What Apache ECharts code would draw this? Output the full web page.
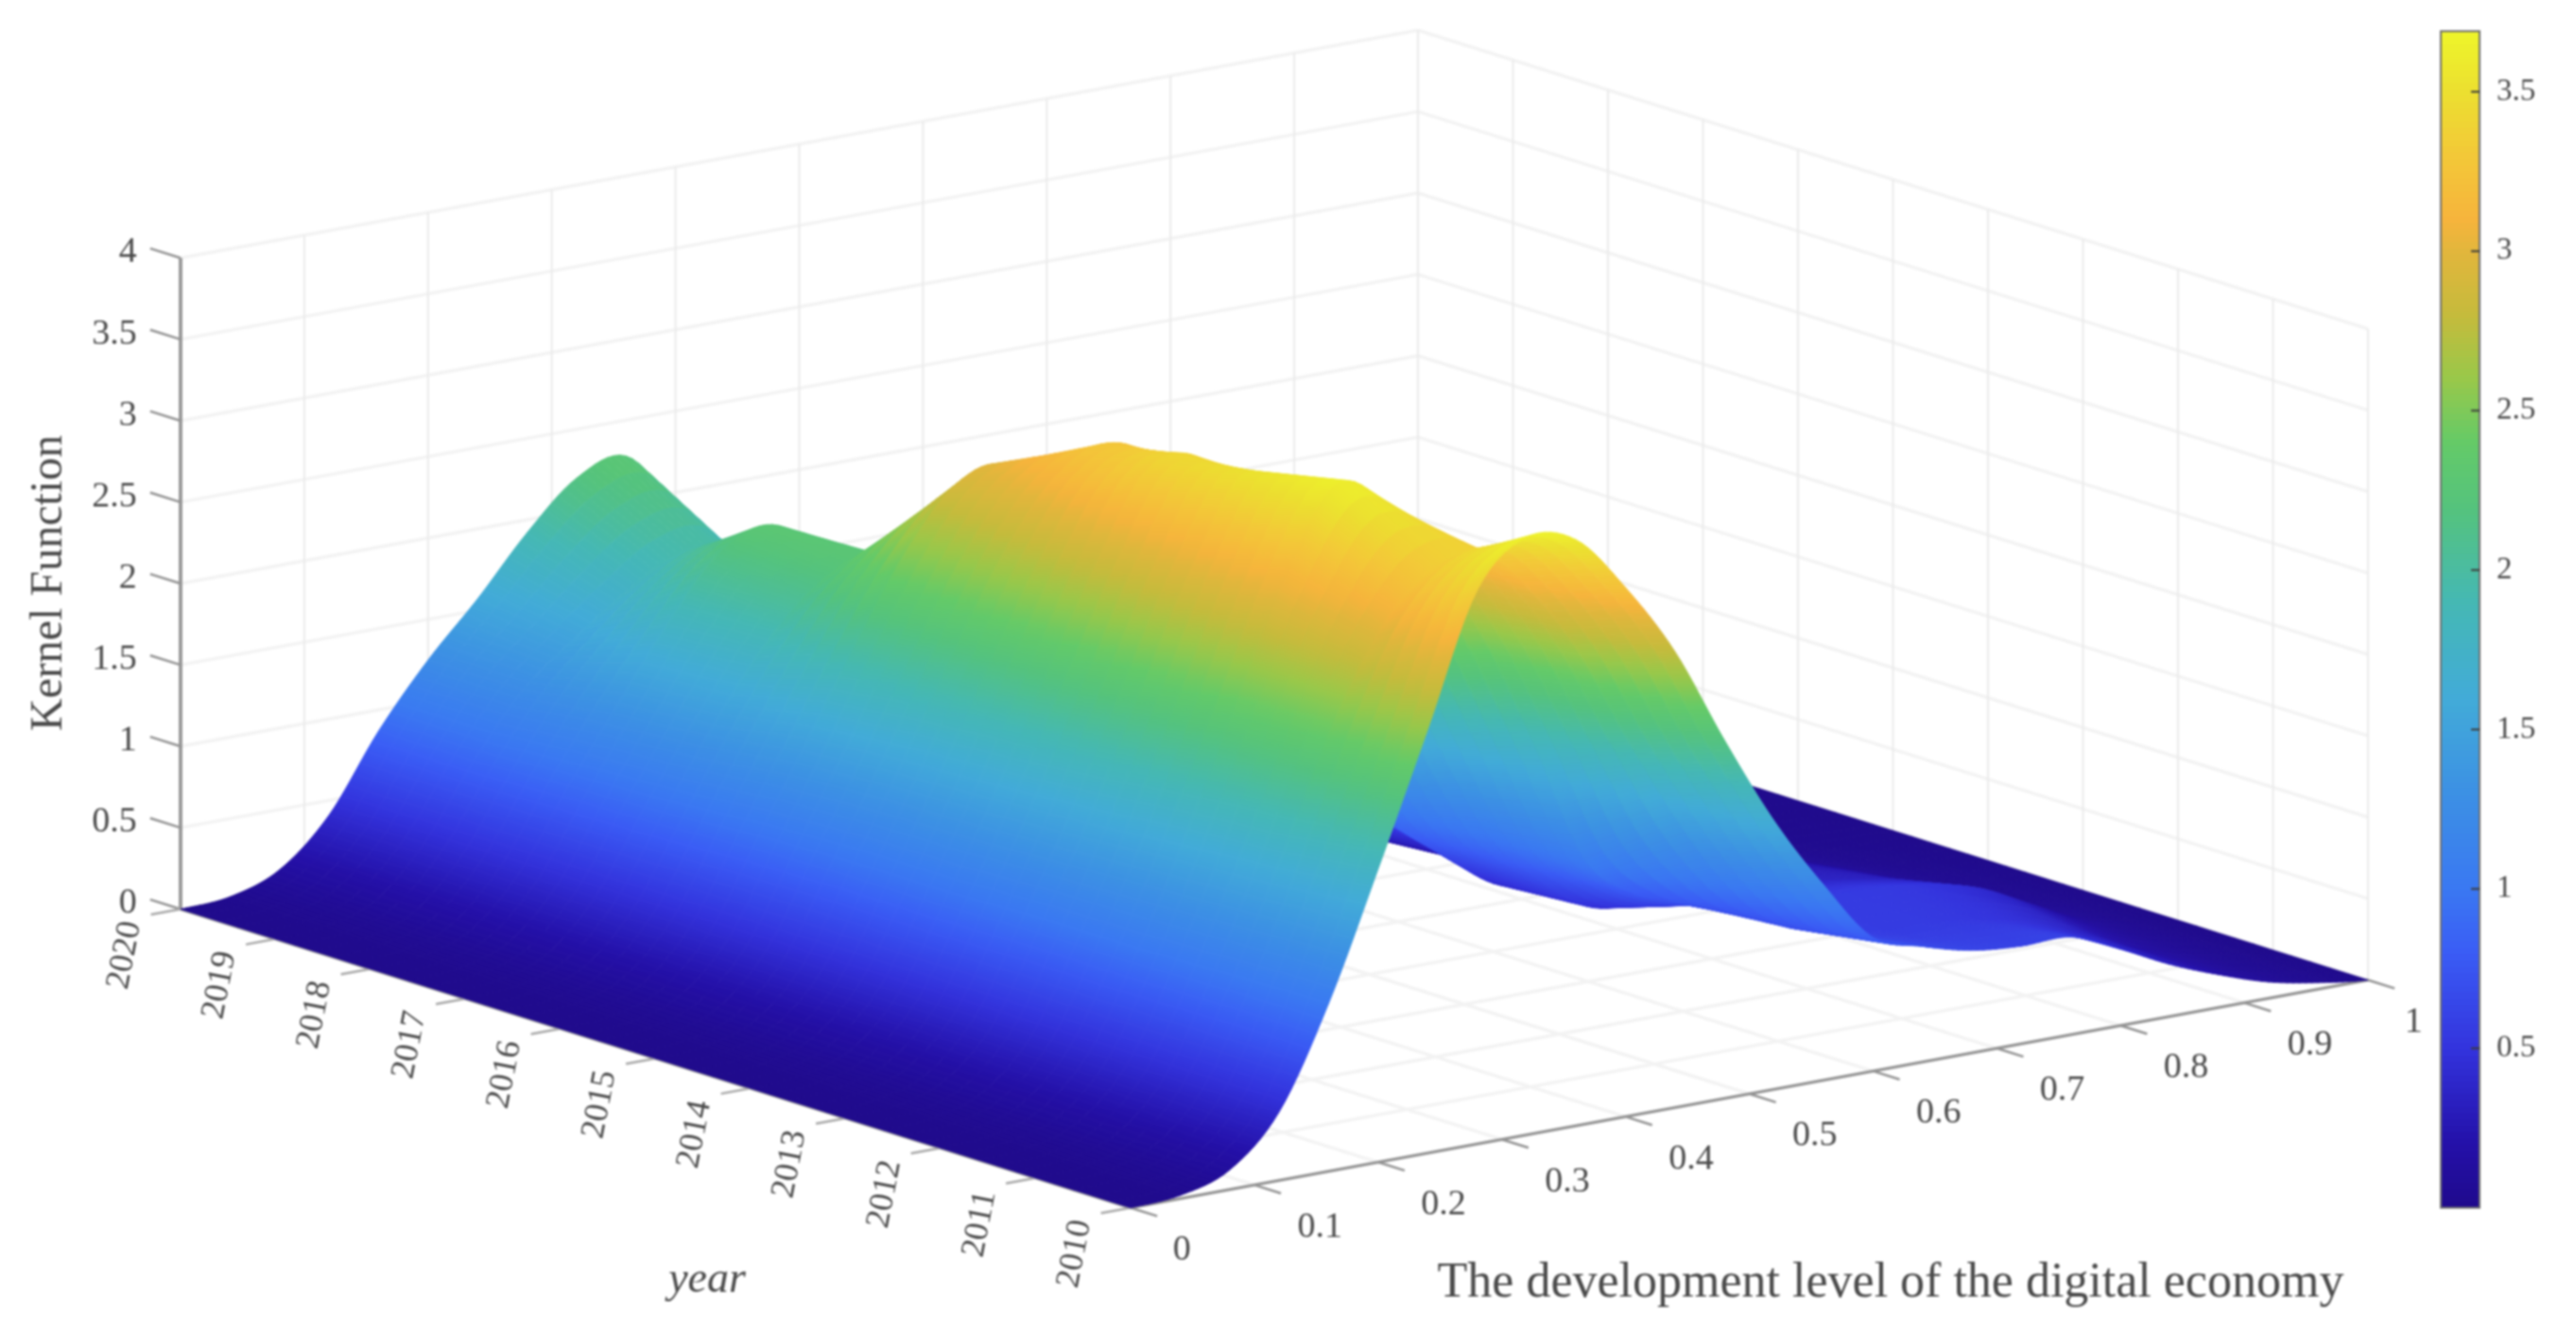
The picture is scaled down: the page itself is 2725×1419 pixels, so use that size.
<!DOCTYPE html>
<html><head><meta charset="utf-8">
<style>html,body{margin:0;padding:0;background:#fff}#c{width:2725px;height:1419px;filter:blur(0.8px)}</style>
<script src="https://cdn.jsdelivr.net/npm/echarts@6/dist/echarts.min.js"></script>
</head><body><div id="c"></div>
<script>
const yearLabels=['2010','2011','2012','2013','2014','2015','2016','2017','2018','2019','2020'];
const xTicks=[0,0.1,0.2,0.3,0.4,0.5,0.6,0.7,0.8,0.9,1];
const zTicks=[0,0.5,1,1.5,2,2.5,3,3.5,4];
const barTicks=[0.5,1,1.5,2,2.5,3,3.5];
const xGrid=[0,.04,.08,.12,.16,.2,.24,.28,.32,.36,.4,.44,.48,.52,.56,.6,.64,.68,.72,.76,.8,.84,.88,.92,.96,1];
const z2010=[0,.02,.12,.42,1.03,1.8,2.6,3.4,3.67,3.6,3.25,2.8,2.2,1.65,1.2,.82,.71,.63,.6,.6,.47,.32,.2,.1,.04,0];
const z2011=[0,.02,.12,.42,1.02,1.72,2.45,3.0,3.3,3.35,3.05,2.6,2.0,1.45,1.0,.72,.62,.56,.55,.52,.46,.35,.2,.1,.04,0];
const z2012=[0,.02,.12,.42,1.0,1.68,2.42,3.15,3.63,3.45,3.0,2.5,1.8,1.05,.78,.66,.6,.56,.55,.54,.5,.42,.27,.12,.04,0];
const z2013=[0,.02,.12,.42,1.0,1.62,2.32,3.0,3.5,3.35,2.95,2.3,1.6,1.0,.68,.46,.42,.42,.4,.38,.35,.3,.18,.08,.03,0];
const z2014=[0,.02,.12,.42,.98,1.58,2.22,2.85,3.35,3.38,3.0,2.2,1.35,.9,.65,.42,.34,.3,.3,.3,.28,.22,.12,.05,.02,0];
const z2015=[0,.02,.12,.42,.98,1.55,2.15,2.7,3.1,3.27,3.1,2.35,1.6,1.1,.8,.58,.38,.22,.2,.16,.12,.08,.04,.02,.01,0];
const z2016=[0,.02,.12,.42,.96,1.5,2.05,2.55,2.9,2.95,2.5,1.95,1.4,.95,.72,.52,.32,.18,.12,.08,.05,.03,.02,.01,0,0];
const z2017=[0,.02,.12,.42,.92,1.4,1.82,2.12,2.27,2.15,1.8,1.4,1.05,.8,.6,.42,.3,.2,.13,.09,.06,.03,.02,.01,0,0];
const z2018=[0,.02,.12,.42,.9,1.35,1.78,2.15,2.28,2.1,1.75,1.35,1.0,.75,.55,.4,.3,.2,.13,.09,.06,.03,.02,.01,0,0];
const z2019=[0,.02,.12,.42,.87,1.25,1.5,1.72,1.9,1.92,1.6,1.25,.95,.7,.5,.38,.28,.2,.13,.09,.06,.03,.02,.01,0,0];
const z2020=[0,.02,.13,.41,.87,1.25,1.57,1.92,2.2,2.28,1.92,1.5,1.1,.8,.6,.45,.35,.25,.18,.12,.08,.05,.03,.02,.01,0];
const rows=[z2010,z2011,z2012,z2013,z2014,z2015,z2016,z2017,z2018,z2019,z2020];
const colorStops=[[0,'#1f0a8c'],[.2,'#2410a8'],[.5,'#3333dd'],[.8,'#3a5cf5'],[1,'#3a78f2'],[1.3,'#3c90e4'],[1.6,'#42abd8'],[1.9,'#45b8b4'],[2.2,'#55c37c'],[2.4,'#64ca68'],[2.6,'#98c84a'],[2.8,'#c5bb3c'],[3,'#e2b63c'],[3.1,'#f6b43c'],[3.3,'#f3c838'],[3.5,'#ecdf30'],[3.69,'#eef52a']];
const barMax=3.69;

const rgb=h=>[1,3,5].map(i=>parseInt(h.substr(i,2),16));
const stops=colorStops.map(s=>[s[0],rgb(s[1])]);
function colorOf(z){
  if(z<=0) return 'rgb('+stops[0][1]+')';
  for(let i=1;i<stops.length;i++){
    if(z<=stops[i][0]){const a=stops[i-1],b=stops[i],k=(z-a[0])/(b[0]-a[0]);
      return 'rgb('+a[1].map((v,j)=>Math.round(v+(b[1][j]-v)*k)).join(',')+')';}
  }
  return 'rgb('+stops[stops.length-1][1]+')';
}
// orthographic view of the MATLAB box: t = x value, s = year fraction (0 = 2010, 1 = 2020)
const O=[1196,1278],EX=[1309,-241],EY=[-1005,-316],EZ=172.25;
const proj=(t,s,z)=>[O[0]+EX[0]*t+EY[0]*s,O[1]+EX[1]*t+EY[1]*s-EZ*z];
// tessellate read rows for drawing
const XSUB=8,YSUB=5;
function smooth(row,u){
  const n=row.length-1,p=Math.min(n-1,Math.floor(u)),f=u-p;
  const a=row[Math.max(0,p-1)],b=row[p],c=row[p+1],d=row[Math.min(n,p+2)];
  const v=.5*((2*b)+(-a+c)*f+(2*a-5*b+4*c-d)*f*f+(-a+3*b-3*c+d)*f*f*f);
  return Math.max(0,v);
}
const fine=rows.map(r=>{const o=[];for(let i=0;i<=(xGrid.length-1)*XSUB;i++)o.push(smooth(r,i/XSUB));return o;});
const nFine=(xGrid.length-1)*XSUB;
const tiles=[];
for(let y=rows.length-2;y>=0;y--){
  for(let k=YSUB-1;k>=0;k--){
    const a=k/YSUB,b=(k+1)/YSUB;
    for(let i=nFine-1;i>=0;i--){
      const t0=i/nFine,t1=(i+1)/nFine;
      const s0=(y+a)/10,s1=(y+b)/10;
      const z00=fine[y][i]*(1-a)+fine[y+1][i]*a, z10=fine[y][i+1]*(1-a)+fine[y+1][i+1]*a;
      const z01=fine[y][i]*(1-b)+fine[y+1][i]*b, z11=fine[y][i+1]*(1-b)+fine[y+1][i+1]*b;
      tiles.push([t0,t1,s0,s1,z00,z10,z01,z11]);
    }
  }
}
const barLevels=[];for(let i=0;i<185;i++)barLevels.push([(i)/185*barMax,(i+1)/185*barMax]);

function seg(api,a,b,color,w){
  const p=api.coord(a),q=api.coord(b);
  return {type:'line',shape:{x1:p[0],y1:p[1],x2:q[0],y2:q[1]},style:{stroke:color,lineWidth:w},silent:true};
}
const G1='#f3f3f3',G2='#ebebeb',AX='#939393',TX='#4a4a4a',FONT='"Liberation Serif",serif';
function boxItem(params,api){
  const c=[];
  const L=(a,b,col,w)=>c.push(seg(api,a,b,col,w));
  zTicks.forEach(z=>{ if(z===0)return;
    L(proj(0,1,z),proj(1,1,z),G1,3.5); L(proj(1,1,z),proj(1,0,z),G1,3.5); });
  xTicks.forEach(t=>{ if(t>0) L(proj(t,1,0),proj(t,1,4),G2,2);
    L(proj(t,0,0),proj(t,1,0),G1,3.5); });
  yearLabels.forEach((_,i)=>{const s=i/10; L(proj(1,s,0),proj(1,s,4),G2,2); L(proj(0,s,0),proj(1,s,0),G1,3.5);});
  L(proj(0,1,0),proj(0,1,4),'#9a9a9a',4);
  L(proj(0,0,0),proj(1,0,0),AX,3);
  L(proj(0,0,0),proj(0,1,0),AX,3);
  zTicks.forEach(z=>L(proj(0,1,z),proj(0,1.032,z),AX,2.5));
  yearLabels.forEach((_,i)=>{const s=i/10;L(proj(0,s,0),proj(-.024,s,0),'#a8a8a8',2.5);});
  xTicks.forEach(t=>L(proj(t,0,0),proj(t,-.028,0),AX,2.5));
  return {type:'group',children:c,silent:true};
}
function tickText(api,p,text,size,opt){
  const q=api.coord(p);
  return {type:'text',x:q[0],y:q[1],rotation:(opt&&opt.rot)||0,
    style:{text:String(text),fill:TX,font:((opt&&opt.italic)?'italic ':'')+size+'px '+FONT,align:(opt&&opt.align)||'center',verticalAlign:'middle'}};
}
function labelItem(params,api){
  const c=[];
  zTicks.forEach(z=>c.push(tickText(api,[proj(0,1.046,z)[0],proj(0,1.046,z)[1]+9],z,38,{align:'right'})));
  yearLabels.forEach((l,i)=>c.push(tickText(api,proj(-.045,i/10,-.22),l,36,{rot:1.38})));
  xTicks.forEach(t=>{const p=proj(t,-.062,-.06);const dx=(t===0)?-8:(t===1?-14:7);c.push(tickText(api,[p[0]+dx,p[1]+15],t,38));});
  c.push(tickText(api,[52,617],'Kernel Function',48,{rot:Math.PI/2}));
  c.push(tickText(api,[748,1355],'year',46,{italic:true}));
  c.push(tickText(api,[2000,1358],'The development level of the digital economy',52));
  return {type:'group',children:c,silent:true};
}
function tileFill(pa,pb,pc,za,zb){
  // colour runs across the strip: from its left edge to its right edge, at right angles to the year direction
  const mx=(pa[0]+pc[0])/2,my=(pa[1]+pc[1])/2;
  let dx=pc[0]-pa[0],dy=pc[1]-pa[1];const len=Math.hypot(dx,dy)||1;dx/=len;dy/=len;
  const nx=-dy,ny=dx;
  const d=(pb[0]-mx)*nx+(pb[1]-my)*ny;
  if(Math.abs(d)<.5) return colorOf((za+zb)/2);
  return {type:'linear',global:true,x:mx,y:my,x2:mx+nx*d,y2:my+ny*d,
    colorStops:[{offset:0,color:colorOf(za)},{offset:1,color:colorOf(zb)}]};
}
const chart=echarts.init(document.getElementById('c'),null,{renderer:'canvas'});
chart.setOption({
  animation:false,backgroundColor:'#ffffff',
  grid:[
    {left:0,top:0,width:2725,height:1419,show:false},
    {left:2582,top:33,width:41,height:1245,show:true,backgroundColor:'transparent',borderColor:'#6f6f6f',borderWidth:2,z:5}
  ],
  xAxis:[
    {type:'value',gridIndex:0,min:0,max:2725,show:false},
    {type:'value',gridIndex:1,min:0,max:1,show:false}
  ],
  yAxis:[
    {type:'value',gridIndex:0,min:0,max:1419,inverse:true,show:false},
    {type:'value',gridIndex:1,min:0,max:barMax,interval:.5,position:'right',
     axisLine:{show:false},splitLine:{show:false},axisTick:{show:false},
     axisLabel:{show:true,margin:18,color:TX,fontFamily:'Liberation Serif',fontSize:33,
       formatter:v=>(v===0||v>3.6)?'':String(v),showMaxLabel:false,showMinLabel:false}}
  ],
  series:[
    {type:'custom',xAxisIndex:0,yAxisIndex:0,coordinateSystem:'cartesian2d',data:[[0]],silent:true,z:1,renderItem:boxItem},
    {type:'custom',xAxisIndex:0,yAxisIndex:0,coordinateSystem:'cartesian2d',data:tiles,silent:true,z:2,progressive:0,
     renderItem(params,api){
       const v=i=>api.value(i);
       const t0=v(0),t1=v(1),s0=v(2),s1=v(3),a=v(4),b=v(5),c=v(6),d=v(7);
       const P=[proj(t0,s0,a),proj(t1,s0,b),proj(t1,s1,d),proj(t0,s1,c)].map(p=>api.coord(p));
       const rm=[(P[1][0]+P[2][0])/2,(P[1][1]+P[2][1])/2];
       const col=tileFill(P[0],rm,P[3],(a+c)/2,(b+d)/2);
       return {type:'polygon',shape:{points:P},style:{fill:col,stroke:col,lineWidth:.9},silent:true};
     }},
    {type:'custom',xAxisIndex:0,yAxisIndex:0,coordinateSystem:'cartesian2d',data:[[0]],silent:true,z:3,renderItem:labelItem},
    {type:'custom',xAxisIndex:1,yAxisIndex:1,coordinateSystem:'cartesian2d',data:barLevels,silent:true,z:4,progressive:0,
     renderItem(params,api){
       const lo=api.value(0),hi=api.value(1),p=api.coord([0,hi]),q=api.coord([1,lo]);
       const col=colorOf((lo+hi)/2);
       return {type:'rect',shape:{x:p[0],y:p[1],width:q[0]-p[0],height:q[1]-p[1]+1},style:{fill:col},silent:true};
     }},
    {type:'custom',xAxisIndex:1,yAxisIndex:1,coordinateSystem:'cartesian2d',data:barTicks.map(v=>[1,v]),silent:true,z:6,
     renderItem(params,api){
       const v=api.value(1),p=api.coord([.78,v]),q=api.coord([1,v]);
       return {type:'line',shape:{x1:p[0],y1:p[1],x2:q[0],y2:q[1]},style:{stroke:'#3c3c3c',lineWidth:2},silent:true};
     }}
  ]
});
</script></body></html>
